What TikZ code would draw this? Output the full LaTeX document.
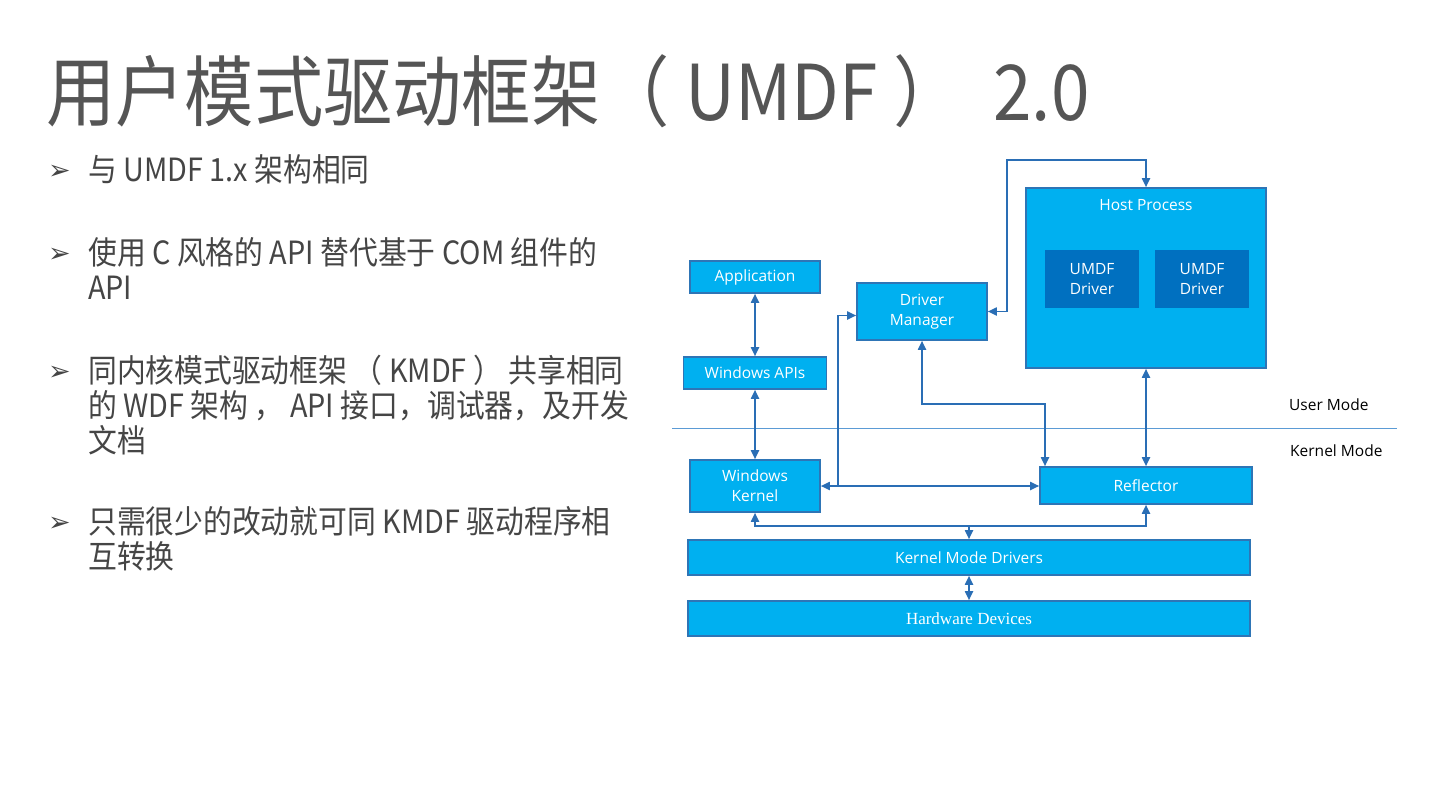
\documentclass[tikz,border=0pt]{standalone}
\usepackage{fontspec}
\usetikzlibrary{positioning}
\usetikzlibrary{arrows.meta}
\usetikzlibrary{calc}

\newfontfamily\cjk[FakeStretch=0.9]{Noto Sans CJK SC}
\newfontfamily\diag{Open Sans}
\newfontfamily\hwserif{Liberation Serif}
\newfontfamily\dingbat{DejaVu Sans}

\definecolor{boxfill}{HTML}{00B0F0}
\definecolor{boxline}{HTML}{2E75B6}
\definecolor{umdffill}{HTML}{0070C0}
\definecolor{connline}{HTML}{2A6EB5}
\definecolor{sepline}{HTML}{5B9BD5}
\definecolor{titlegray}{HTML}{555555}
\definecolor{textgray}{HTML}{454545}

\begin{document}
\begin{tikzpicture}[x=1pt,y=-1pt,
	box/.style={draw=boxline,fill=boxfill,line width=1.6pt,text=white,align=center,inner sep=0pt,font=\diag\fontsize{15.5}{20}\selectfont},
	conn/.style={draw=connline,line width=1.8pt,{Triangle[length=9pt,width=8pt]}-{Triangle[length=9pt,width=8pt]}},
	onearrow/.style={draw=connline,line width=1.8pt,-{Triangle[length=9pt,width=8pt]}},
	bullettext/.style={anchor=base west,inner sep=0pt,align=left,text=textgray,font=\cjk\fontsize{32}{35}\selectfont},
	bulletmark/.style={anchor=base west,inner sep=0pt,text=textgray,font=\dingbat\fontsize{27}{28}\selectfont}]
		\useasboundingbox[fill=white] (0,0) rectangle (1441,811);
		% title and bullets (base = last line)
		\node (title) [anchor=base west,inner sep=0pt,text=titlegray,font=\cjk\fontsize{77}{80}\selectfont] at (46,120) {用户模式驱动框架（ UMDF ）\ \ 2.0};
		\node (m1) [bulletmark] at (48,179) {➢};
		\node (t1) [bullettext] at (88,181) {与 UMDF 1.x 架构相同};
		\node (m2) [bulletmark] at (48,262) {➢};
		\node (t2) [bullettext] at (88,299) {使用 C 风格的 API 替代基于 COM 组件的\\API};
		\node (m3) [bulletmark] at (48,380) {➢};
		\node (t3) [bullettext] at (88,452) {同内核模式驱动框架 （ KMDF ） 共享相同\\的 WDF 架构 ， API 接口，调试器，及开发\\文档};
		\node (m4) [bulletmark] at (48,531) {➢};
		\node (t4) [bullettext] at (88,568) {只需很少的改动就可同 KMDF 驱动程序相\\互转换};
		% diagram boxes
		\node (app) [box,minimum width=130pt,minimum height=32pt] at (755,277) {Application};
		\node (winapi) [box,minimum width=143pt,minimum height=32pt] at (755,373) {Windows APIs};
		\node (winkernel) [box,minimum width=130pt,minimum height=52pt] at (755,486) {Windows\\Kernel};
		\node (drvmgr) [box,minimum width=130pt,minimum height=57pt] at (922,311.5) {Driver\\Manager};
		\node (host) [box,minimum width=240pt,minimum height=180pt] at (1146,278) {};
		\node (hostlabel) [text=white,font=\diag\fontsize{15.5}{20}\selectfont] at (1146,205) {Host Process};
		\node (umdfa) [box,draw=none,fill=umdffill,minimum width=94pt,minimum height=58pt] at (1092,279) {UMDF\\Driver};
		\node (umdfb) [box,draw=none,fill=umdffill,minimum width=94pt,minimum height=58pt] at (1202,279) {UMDF\\Driver};
		\node (reflector) [box,minimum width=212pt,minimum height=37pt] at (1146,485.5) {Reflector};
		\node (kmd) [box,minimum width=562pt,minimum height=35pt] at (969,557.5) {Kernel Mode Drivers};
		\node (hw) [box,minimum width=562pt,minimum height=35pt,font=\hwserif\fontsize{17}{20}\selectfont] at (969,618.5) {Hardware Devices};
		% user / kernel split
		\draw [sepline,line width=1pt] (672,428) -- (1397,428);
		\node (usermode) [anchor=west,inner sep=0pt,font=\diag\fontsize{15.5}{20}\selectfont] at (1289,405) {User Mode};
		\node (kernelmode) [anchor=west,inner sep=0pt,font=\diag\fontsize{15.5}{20}\selectfont] at (1290,451) {Kernel Mode};
		% connectors
		\coordinate (topbend) at (1007,160);
		\coordinate (dmbend) at (1045,404);
		\coordinate (kbranch) at (838,486);
		\coordinate (kbus) at (969,526);
		\draw [conn] (app.south) -- (winapi.north);
		\draw [conn] (winapi.south) -- (winkernel.north);
		\draw [conn] (drvmgr.east) -| (topbend) -| (host.north);
		\draw [conn] (drvmgr.south) |- (dmbend) -- (dmbend |- reflector.north);
		\draw [conn] (host.south) -- (reflector.north);
		\draw [conn] (winkernel.east) -- (winkernel.east -| reflector.west);
		\draw [onearrow] (kbranch) |- ([yshift=-4pt]drvmgr.west);
		\draw [conn] (winkernel.south) |- (kbus) -| (reflector.south);
		\draw [onearrow] (kbus) -- (kmd.north);
		\draw [conn] (kmd.south) -- (hw.north);
	\end{tikzpicture}
\end{document}
